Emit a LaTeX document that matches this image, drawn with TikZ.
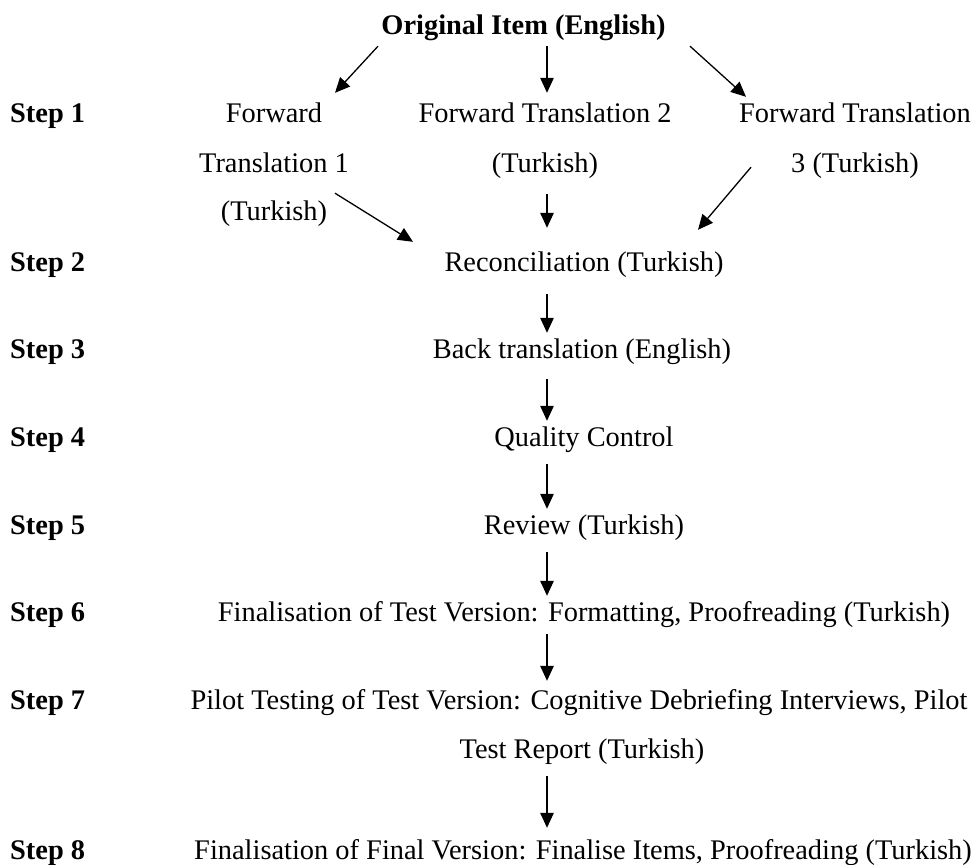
\documentclass[tikz,border=0pt]{standalone}
\usepackage{fontspec}
\setmainfont{Liberation Serif}
\usetikzlibrary{arrows.meta,calc}
\begin{document}
\begin{tikzpicture}[x=1pt,y=-1pt,
  txt/.style={anchor=base,inner sep=0pt,text height=19pt,text depth=6pt,font=\fontsize{28.4}{34}\selectfont},
  steplbl/.style={anchor=base west,inner sep=0pt,font=\fontsize{28.4}{34}\selectfont\bfseries},
  arr/.style={line width=1.3pt,-{Triangle[length=15pt,width=13.5pt]}}]
\useasboundingbox (0,0) rectangle (975,865);
\coordinate (ax) at (547,0);
% step labels
\node[steplbl] (s1) at (10,122) {Step 1};
\node[steplbl] (s2) at (10,271) {Step 2};
\node[steplbl] (s3) at (10,358) {Step 3};
\node[steplbl] (s4) at (10,446) {Step 4};
\node[steplbl] (s5) at (10,534) {Step 5};
\node[steplbl] (s6l) at (10,621) {Step 6};
\node[steplbl] (s7l) at (10,709) {Step 7};
\node[steplbl] (s8l) at (10,859) {Step 8};
% texts
\node[txt,font=\fontsize{28.4}{34}\selectfont\bfseries] (orig) at (523.5,34) {Original Item (English)};
\node[txt] (ft1a) at (274,122) {Forward};
\node[txt] (ft1b) at (274,172) {Translation 1};
\node[txt] (ft1c) at (274,220) {(Turkish)};
\node[txt] (ft2a) at (545,122) {Forward Translation 2};
\node[txt] (ft2b) at (545,172) {(Turkish)};
\node[txt] (ft3a) at (855,122) {Forward Translation};
\node[txt] (ft3b) at (855,172) {3 (Turkish)};
\node[txt] (recon) at (584,271) {Reconciliation (Turkish)};
\node[txt] (back) at (582,358) {Back translation (English)};
\node[txt] (qc) at (584,446) {Quality Control};
\node[txt] (review) at (584,534) {Review (Turkish)};
\node[txt] (s6) at (584,621) {Finalisation of Test Version: Formatting, Proofreading (Turkish)};
\node[txt] (s7a) at (579,709) {Pilot Testing of Test Version: Cognitive Debriefing Interviews, Pilot};
\node[txt] (s7b) at (582,758) {Test Report (Turkish)};
\node[txt] (s8) at (583,859) {Finalisation of Final Version: Finalise Items, Proofreading (Turkish)};
% arrows
\draw[arr] ($(orig.south)+(-145.5,6)$) -- ($(ft1a.north)+(61,-10)$);
\draw[arr] ($(orig.south -| ax)+(0,6)$) -- ($(ft2a.north -| ax)+(0,-10)$);
\draw[arr] ($(orig.south)+(166.5,6)$) -- ($(ft3a.north)+(-109,-6)$);
\draw[arr] ($(ft1c.south)+(61,-33)$) -- ($(recon.north)+(-171,-10)$);
\draw[arr] ($(ft2b.south -| ax)+(0,16)$) -- ($(recon.north -| ax)+(0,-24)$);
\draw[arr] ($(ft3b.south)+(-104,-11)$) -- ($(recon.north)+(114,-22)$);
\draw[arr] ($(recon.south -| ax)+(0,17)$) -- ($(back.north -| ax)+(0,-6)$);
\draw[arr] ($(back.south -| ax)+(0,15)$) -- ($(qc.north -| ax)+(0,-6)$);
\draw[arr] ($(qc.south -| ax)+(0,12)$) -- ($(review.north -| ax)+(0,-6)$);
\draw[arr] ($(review.south -| ax)+(0,12)$) -- ($(s6.north -| ax)+(0,-6)$);
\draw[arr] ($(s6.south -| ax)+(0,7)$) -- ($(s7a.north -| ax)+(0,-9)$);
\draw[arr] ($(s7b.south -| ax)+(0,12)$) -- ($(s8.north -| ax)+(0,-12)$);
\end{tikzpicture}
\end{document}
